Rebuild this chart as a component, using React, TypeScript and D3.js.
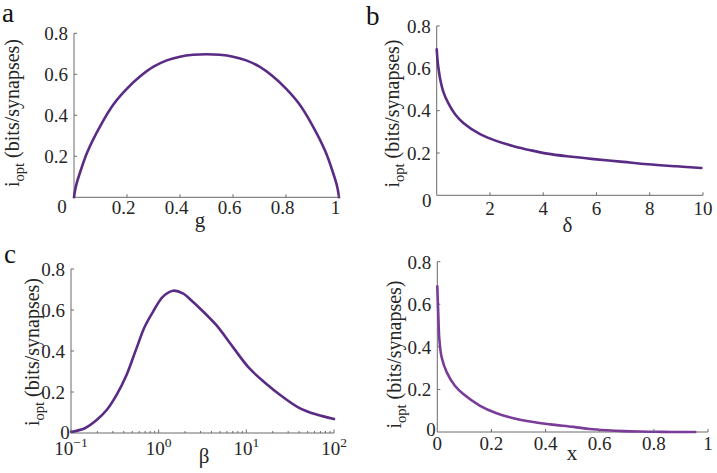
import React from "react";
import * as d3 from "d3";

// Panel a
const gValues = [0, 0.005, 0.01, 0.02, 0.05, 0.1, 0.15, 0.2, 0.25, 0.3, 0.35, 0.4, 0.45, 0.5, 0.55, 0.6, 0.65, 0.7, 0.75, 0.8, 0.85, 0.9, 0.95, 0.98, 0.99, 0.995, 1];
const ioptG = [0, 0.04, 0.068, 0.11, 0.22, 0.35, 0.455, 0.53, 0.59, 0.637, 0.668, 0.686, 0.695, 0.698, 0.695, 0.686, 0.668, 0.637, 0.59, 0.53, 0.455, 0.35, 0.22, 0.11, 0.068, 0.04, 0];
const gTicks = [0.2, 0.4, 0.6, 0.8, 1];

// Panel b
const deltaValues = [0, 0.03, 0.06, 0.126, 0.25, 0.44, 0.69, 1.0, 1.63, 2.26, 2.89, 3.52, 4.15, 5.0, 5.9, 7.0, 7.92, 9.0, 9.94];
const ioptDelta = [0.69, 0.64, 0.607, 0.552, 0.489, 0.434, 0.383, 0.342, 0.289, 0.256, 0.232, 0.213, 0.197, 0.183, 0.171, 0.158, 0.147, 0.137, 0.129];
const deltaTicks = [2, 4, 6, 8, 10];

// Panel c
const betaValues = [0.1, 0.144, 0.196, 0.255, 0.33, 0.43, 0.558, 0.693, 0.861, 1.12, 1.46, 1.89, 2.45, 2.92, 4.53, 7.0, 10.8, 16.7, 25.9, 40, 62, 100];
const ioptBeta = [0.005, 0.023, 0.063, 0.112, 0.185, 0.283, 0.413, 0.518, 0.591, 0.665, 0.694, 0.681, 0.64, 0.61, 0.527, 0.42, 0.316, 0.242, 0.177, 0.123, 0.091, 0.068];
const betaTicks = [0.1, 1, 10, 100];
const betaExponents = ["\u22121", "0", "1", "2"];

// Panel d
const xValues = [0, 0.004, 0.0074, 0.016, 0.035, 0.065, 0.096, 0.158, 0.219, 0.281, 0.342, 0.416, 0.503, 0.564, 0.626, 0.687, 0.749, 0.81, 0.872, 0.953];
const ioptX = [0.685, 0.54, 0.438, 0.351, 0.28, 0.217, 0.178, 0.123, 0.088, 0.065, 0.049, 0.036, 0.024, 0.014, 0.008, 0.004, 0.002, 0.001, 0, 0];
const xTicks = [0, 0.2, 0.4, 0.6, 0.8, 1];

const yTicks = [0.2, 0.4, 0.6, 0.8];

const FONT = '"Liberation Serif", "Times New Roman", Times, "DejaVu Serif", serif';
const AXIS = "#6a6a6a";
const TEXT = "#262626";
const TICK_FS = 19;
const LABEL_FS = 21;

type PanelProps = {
  xs: number[];
  ys: number[];
  x0: number; x1: number; yb: number; yt: number;
  domain: [number, number];
  log?: boolean;
  color: string;
  letter?: string;
  letterPos?: [number, number];
  xLabel: string;
  xLabelPos: [number, number];
  yLabelPos: [number, number];
  children?: React.ReactNode;
};

const serif = { fontFamily: FONT };

function YLabel({ x, y }: { x: number; y: number }) {
  return (
    <text transform={`translate(${x},${y}) rotate(-90)`} textAnchor="middle" style={serif} fontSize={20} fill={TEXT}>
      i<tspan fontSize={14.5} dy={5}>opt</tspan><tspan dy={-5}> (bits/synapses)</tspan>
    </text>
  );
}

function Panel(p: PanelProps) {
  const xScale = p.log
    ? d3.scaleLog().domain(p.domain).range([p.x0, p.x1])
    : d3.scaleLinear().domain(p.domain).range([p.x0, p.x1]);
  const yScale = d3.scaleLinear().domain([0, 0.8]).range([p.yb, p.yt]);
  const pts: [number, number][] = p.xs.map((v, i) => [v, p.ys[i]]);
  const line = d3
    .line<[number, number]>()
    .x((d) => xScale(d[0]))
    .y((d) => yScale(d[1]))
    .curve(d3.curveCatmullRom.alpha(0.5));
  return (
    <g>
      <line x1={p.x0} x2={p.x0} y1={yScale(0)} y2={yScale(0.8)} stroke={AXIS} strokeWidth={1} />
      <line x1={p.x0} x2={p.x1} y1={yScale(0)} y2={yScale(0)} stroke={AXIS} strokeWidth={1} />
      {yTicks.map((t) => (
        <g key={t}>
          <line x1={p.x0} x2={p.x0 + 3} y1={yScale(t)} y2={yScale(t)} stroke={AXIS} />
          <text x={p.x0 - 6} y={yScale(t)} dy="0.36em" textAnchor="end" style={serif} fontSize={TICK_FS} fill={TEXT}>
            {t.toFixed(1)}
          </text>
        </g>
      ))}
      <path d={line(pts) || ""} fill="none" stroke={p.color} strokeWidth={2.6} strokeLinejoin="round" strokeLinecap="round" />
      {p.letter && (
        <text x={p.letterPos![0]} y={p.letterPos![1]} style={serif} fontSize={27} fill="#111">
          {p.letter}
        </text>
      )}
      <text x={p.xLabelPos[0]} y={p.xLabelPos[1]} textAnchor="middle" style={serif} fontSize={LABEL_FS} fill={TEXT}>
        {p.xLabel}
      </text>
      <YLabel x={p.yLabelPos[0]} y={p.yLabelPos[1]} />
      {p.children}
    </g>
  );
}

export default function App() {
  const A = { x0: 74, x1: 339, yb: 197.3, yt: 33.3 };
  const B = { x0: 436.7, x1: 703, yb: 195.3, yt: 26 };
  const C = { x0: 71, x1: 334, yb: 433, yt: 269 };
  const D = { x0: 437.3, x1: 708, yb: 432, yt: 261.7 };

  const ax = d3.scaleLinear().domain([0, 1]).range([A.x0, A.x1]);
  const bx = d3.scaleLinear().domain([0, 10]).range([B.x0, B.x1]);
  const cx = d3.scaleLog().domain([0.1, 100]).range([C.x0, C.x1]);
  const dx = d3.scaleLinear().domain([0, 1]).range([D.x0, D.x1]);

  const minorBeta: number[] = [];
  [0.1, 1, 10].forEach((dec) => {
    for (let k = 2; k <= 9; k++) minorBeta.push(dec * k);
  });

  return (
    <svg width={717} height={473} style={{ position: "absolute", left: 0, top: 0, background: "#fff" }}>
      <rect width={717} height={473} fill="#fff" />
      <Panel xs={gValues} ys={ioptG} {...A} domain={[0, 1]} color="#5a2b85" letter="a" letterPos={[2, 22]}
        xLabel="g" xLabelPos={[200, 227]} yLabelPos={[18.5, 113]}>
        {gTicks.map((t) => (
          <g key={t}>
            <line x1={ax(t)} x2={ax(t)} y1={A.yb} y2={A.yb - 3} stroke={AXIS} />
            <text x={ax(t) - 3.5} y={214} textAnchor="middle" style={serif} fontSize={TICK_FS} fill={TEXT}>
              {t === 1 ? "1" : t.toFixed(1)}
            </text>
          </g>
        ))}
        <text x={62} y={213} textAnchor="middle" style={serif} fontSize={TICK_FS} fill={TEXT}>0</text>
      </Panel>

      <Panel xs={deltaValues} ys={ioptDelta} {...B} domain={[0, 10]} color="#5a2b85" letter="b" letterPos={[366, 25]}
        xLabel={"\u03b4"} xLabelPos={[567.5, 232]} yLabelPos={[399, 113.5]}>
        {deltaTicks.map((t) => (
          <g key={t}>
            <line x1={bx(t)} x2={bx(t)} y1={B.yb} y2={B.yb - 3} stroke={AXIS} />
            <text x={bx(t)} y={214.5} textAnchor="middle" style={serif} fontSize={TICK_FS} fill={TEXT}>
              {t}
            </text>
          </g>
        ))}
        <text x={426.7} y={207} textAnchor="middle" style={serif} fontSize={TICK_FS} fill={TEXT}>0</text>
      </Panel>

      <Panel xs={betaValues} ys={ioptBeta} {...C} domain={[0.1, 100]} log color="#5a2b85" letter="c" letterPos={[4, 263]}
        xLabel={"\u03b2"} xLabelPos={[204, 463]} yLabelPos={[39, 352]}>
        {minorBeta.map((t) => (
          <line key={t} x1={cx(t)} x2={cx(t)} y1={C.yb} y2={C.yb - 2} stroke={AXIS} />
        ))}
        {betaTicks.map((t, i) => (
          <g key={t}>
            <line x1={cx(t)} x2={cx(t)} y1={C.yb} y2={C.yb - 3.5} stroke={AXIS} />
            <text x={cx(t)} y={455} textAnchor="middle" style={serif} fontSize={TICK_FS} fill={TEXT}>
              10<tspan fontSize={13.5} dy={-8}>{betaExponents[i]}</tspan>
            </text>
          </g>
        ))}
        <text x={65} y={438.5} textAnchor="middle" style={serif} fontSize={TICK_FS} fill={TEXT}>0</text>
      </Panel>

      <Panel xs={xValues} ys={ioptX} {...D} domain={[0, 1]} color="#7a3c98"
        xLabel="x" xLabelPos={[572, 460]} yLabelPos={[401, 354.5]}>
        {xTicks.map((t) => (
          <g key={t}>
            {t > 0 && <line x1={dx(t)} x2={dx(t)} y1={D.yb} y2={D.yb - 3} stroke={AXIS} />}
            <text x={dx(t)} y={450} textAnchor="middle" style={serif} fontSize={TICK_FS} fill={TEXT}>
              {t === 0 ? "0" : t === 1 ? "1" : t.toFixed(1)}
            </text>
          </g>
        ))}
        <text x={431} y={436} textAnchor="middle" style={serif} fontSize={TICK_FS} fill={TEXT}>0</text>
      </Panel>
    </svg>
  );
}
